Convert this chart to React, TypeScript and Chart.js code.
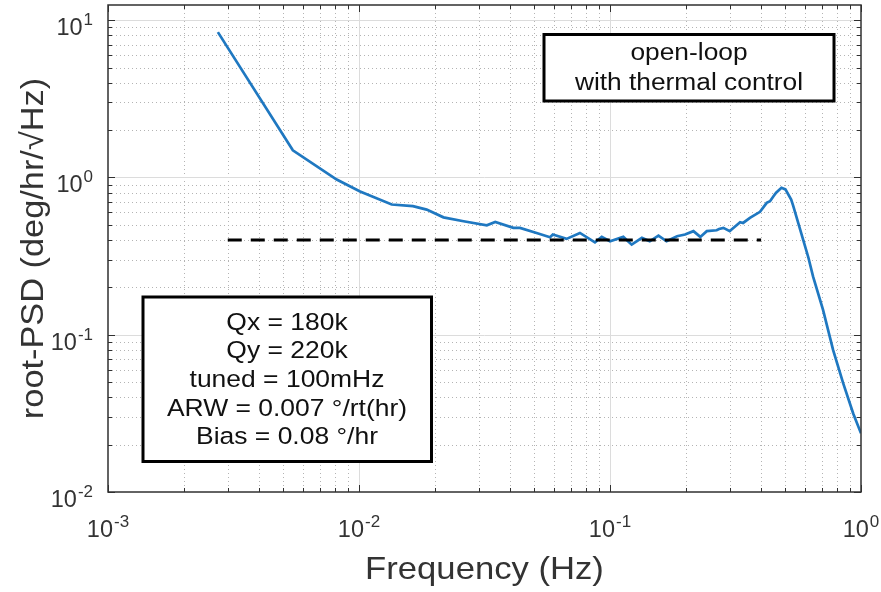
import React, { useEffect, useRef } from "react";
import { Chart, registerables } from "chart.js";

Chart.register(...registerables);

// ---- data ----
const freqHz: number[] = [
  0.00274, 0.00545, 0.00815, 0.0101, 0.0135, 0.0164, 0.0186, 0.0217, 0.0261, 0.0323,
  0.0349, 0.0412, 0.0438, 0.051, 0.0577, 0.0592, 0.0671, 0.0759, 0.0871, 0.0927,
  0.1, 0.113, 0.122, 0.134, 0.144, 0.156, 0.168, 0.185, 0.199, 0.215,
  0.229, 0.243, 0.266, 0.272, 0.283, 0.3, 0.305, 0.33, 0.339, 0.361,
  0.396, 0.421, 0.434, 0.448, 0.459, 0.482, 0.5, 0.527, 0.537,
  0.588, 0.617, 0.644, 0.706, 0.774, 0.849, 0.931, 1.0,
];
const rootPsd: number[] = [
  8.4, 1.49, 0.97, 0.815, 0.673, 0.657, 0.625, 0.558, 0.527, 0.497,
  0.522, 0.478, 0.478, 0.444, 0.417, 0.434, 0.407, 0.444, 0.387, 0.419,
  0.393, 0.419, 0.374, 0.413, 0.393, 0.427, 0.393, 0.423, 0.434, 0.456,
  0.419, 0.456, 0.462, 0.47, 0.478, 0.456, 0.467, 0.519, 0.514, 0.554,
  0.605, 0.69, 0.707, 0.76, 0.8, 0.86, 0.84, 0.724, 0.66,
  0.403, 0.31, 0.235, 0.144, 0.0801, 0.0492, 0.0316, 0.0236,
];
const arwFreq: number[] = [0.003, 0.4];
const arwLevel: number[] = [0.4, 0.4];

const xDecades: number[] = [-3, -2, -1, 0];
const yDecades: number[] = [-2, -1, 0, 1];
const minorMult: number[] = [2, 3, 4, 5, 6, 7, 8, 9];

const xMin = 1e-3;
const xMax = 1;
const yMin = 1e-2;
const yMax = 12.5;

const xTitle = "Frequency (Hz)";
const yTitle = "root-PSD (deg/hr/\u221AHz)";
const topBoxLines: string[] = ["open-loop", "with thermal control"];
const infoBoxLines: string[] = [
  "Qx = 180k",
  "Qy = 220k",
  "tuned = 100mHz",
  "ARW = 0.007 \u00B0/rt(hr)",
  "Bias = 0.08 \u00B0/hr",
];

const FONT = "'Liberation Sans', Arial, Helvetica, sans-serif";
const AXIS_TEXT = "#333333";

function drawText(
  ctx: CanvasRenderingContext2D,
  s: string,
  x: number,
  y: number,
  size: number,
  align: CanvasTextAlign,
  sx = 1,
  color = "#000"
) {
  ctx.save();
  ctx.translate(x, y);
  ctx.scale(sx, 1);
  ctx.font = `${size}px ${FONT}`;
  ctx.textAlign = align;
  ctx.textBaseline = "alphabetic";
  ctx.fillStyle = color;
  ctx.fillText(s, 0, 0);
  ctx.restore();
}

function powerLabel(
  ctx: CanvasRenderingContext2D,
  exp: number,
  anchorX: number,
  baseY: number,
  mode: "center" | "right"
) {
  const baseSize = 23.5;
  const expSize = 17;
  ctx.save();
  ctx.font = `${baseSize}px ${FONT}`;
  const w10 = ctx.measureText("10").width;
  ctx.font = `${expSize}px ${FONT}`;
  const es = exp < 0 ? "-" + Math.abs(exp) : String(exp);
  const we = ctx.measureText(es).width;
  ctx.restore();
  const total = w10 + we + 1;
  const start = mode === "center" ? anchorX - total / 2 : anchorX - total;
  drawText(ctx, "10", start, baseY, baseSize, "left", 1, AXIS_TEXT);
  drawText(ctx, es, start + w10 + 1, baseY - 10, expSize, "left", 1, AXIS_TEXT);
}

const matlabLook = {
  id: "matlabLook",
  beforeDatasetsDraw(chart: any) {
    const { ctx, chartArea: a } = chart;
    const xs = chart.scales.x;
    const ys = chart.scales.y;
    ctx.save();
    // minor dotted grid
    ctx.strokeStyle = "#b4b4b4";
    ctx.lineWidth = 1;
    ctx.setLineDash([1, 3]);
    ctx.beginPath();
    for (const d of xDecades) {
      for (const m of minorMult) {
        const v = m * Math.pow(10, d);
        if (v <= xMin || v >= xMax) continue;
        const px = Math.round(xs.getPixelForValue(v)) + 0.5;
        ctx.moveTo(px, a.top);
        ctx.lineTo(px, a.bottom);
      }
    }
    for (const d of yDecades) {
      for (const m of minorMult) {
        const v = m * Math.pow(10, d);
        if (v <= yMin || v >= yMax) continue;
        const py = Math.round(ys.getPixelForValue(v)) + 0.5;
        ctx.moveTo(a.left, py);
        ctx.lineTo(a.right, py);
      }
    }
    ctx.stroke();
    // major solid grid
    ctx.setLineDash([]);
    ctx.strokeStyle = "#dcdcdc";
    ctx.beginPath();
    for (const d of xDecades) {
      const v = Math.pow(10, d);
      if (v <= xMin || v >= xMax) continue;
      const px = Math.round(xs.getPixelForValue(v)) + 0.5;
      ctx.moveTo(px, a.top);
      ctx.lineTo(px, a.bottom);
    }
    for (const d of yDecades) {
      const v = Math.pow(10, d);
      if (v <= yMin || v >= yMax) continue;
      const py = Math.round(ys.getPixelForValue(v)) + 0.5;
      ctx.moveTo(a.left, py);
      ctx.lineTo(a.right, py);
    }
    ctx.stroke();
    ctx.restore();
  },
  afterDraw(chart: any) {
    const { ctx, chartArea: a } = chart;
    const xs = chart.scales.x;
    const ys = chart.scales.y;
    ctx.save();
    // axes box
    ctx.strokeStyle = "#303030";
    ctx.lineWidth = 1.5;
    ctx.setLineDash([]);
    ctx.strokeRect(a.left, a.top, a.right - a.left, a.bottom - a.top);
    // ticks on all four sides
    ctx.lineWidth = 1;
    ctx.beginPath();
    const tickX = (v: number, len: number) => {
      const px = Math.round(xs.getPixelForValue(v)) + 0.5;
      ctx.moveTo(px, a.bottom);
      ctx.lineTo(px, a.bottom - len);
      ctx.moveTo(px, a.top);
      ctx.lineTo(px, a.top + len);
    };
    const tickY = (v: number, len: number) => {
      const py = Math.round(ys.getPixelForValue(v)) + 0.5;
      ctx.moveTo(a.left, py);
      ctx.lineTo(a.left + len, py);
      ctx.moveTo(a.right, py);
      ctx.lineTo(a.right - len, py);
    };
    for (const d of xDecades) {
      const v = Math.pow(10, d);
      if (v >= xMin && v <= xMax) tickX(v, 7);
      for (const m of minorMult) {
        const mv = m * v;
        if (mv > xMin && mv < xMax) tickX(mv, 4);
      }
    }
    for (const d of yDecades) {
      const v = Math.pow(10, d);
      if (v >= yMin && v <= yMax) tickY(v, 7);
      for (const m of minorMult) {
        const mv = m * v;
        if (mv > yMin && mv < yMax) tickY(mv, 4);
      }
    }
    ctx.stroke();
    ctx.restore();

    // tick labels
    for (const d of xDecades) {
      const px = xs.getPixelForValue(Math.pow(10, d));
      powerLabel(ctx, d, px, a.bottom + 45, "center");
    }
    for (const d of yDecades) {
      const py = ys.getPixelForValue(Math.pow(10, d));
      powerLabel(ctx, d, a.left - 15, py + 15, "right");
    }
    // axis titles
    drawText(ctx, xTitle, (a.left + a.right) / 2, 579, 31.5, "center", 1.1, AXIS_TEXT);
    ctx.save();
    ctx.translate(43, (a.top + a.bottom) / 2);
    ctx.rotate(-Math.PI / 2);
    drawText(ctx, yTitle, 0, 0, 31.5, "center", 1.09, AXIS_TEXT);
    ctx.restore();

    // annotation boxes
    ctx.save();
    ctx.fillStyle = "#ffffff";
    ctx.strokeStyle = "#000000";
    ctx.lineWidth = 3;
    ctx.fillRect(544, 34.5, 290, 66.5);
    ctx.strokeRect(544, 34.5, 290, 66.5);
    ctx.fillRect(143, 297, 288.5, 164.5);
    ctx.strokeRect(143, 297, 288.5, 164.5);
    ctx.restore();
    const topBase = [60, 90];
    topBoxLines.forEach((s, i) => drawText(ctx, s, 689, topBase[i], 23.5, "center", 1.12, "#111"));
    infoBoxLines.forEach((s, i) =>
      drawText(ctx, s, 287, 329.5 + i * 28.7, 24.5, "center", 1.08, "#111")
    );
  },
};

export default function App() {
  const ref = useRef<HTMLCanvasElement | null>(null);
  useEffect(() => {
    if (!ref.current) return;
    const psdPoints = freqHz.map((f, i) => ({ x: f, y: rootPsd[i] }));
    const arwPoints = arwFreq.map((f, i) => ({ x: f, y: arwLevel[i] }));
    const chart = new Chart(ref.current, {
      type: "line",
      data: {
        datasets: [
          {
            label: "ARW level",
            data: arwPoints,
            borderColor: "#000000",
            borderWidth: 3,
            borderDash: [14, 9],
            pointRadius: 0,
            fill: false,
          },
          {
            label: "root-PSD",
            data: psdPoints,
            borderColor: "#1f78c1",
            borderWidth: 2.7,
            pointRadius: 0,
            tension: 0,
            fill: false,
          },
        ],
      },
      options: {
        responsive: false,
        animation: false,
        parsing: true,
        layout: { padding: { left: 108, right: 20, top: 5, bottom: 100 } },
        plugins: { legend: { display: false }, tooltip: { enabled: false } },
        scales: {
          x: { type: "logarithmic", min: xMin, max: xMax, display: false },
          y: { type: "logarithmic", min: yMin, max: yMax, display: false },
        },
      },
      plugins: [matlabLook],
    });
    return () => chart.destroy();
  }, []);
  return (
    <div style={{ position: "fixed", left: 0, top: 0, width: 881, height: 592, background: "#fff" }}>
      <canvas ref={ref} width={881} height={592} style={{ display: "block" }} />
    </div>
  );
}
